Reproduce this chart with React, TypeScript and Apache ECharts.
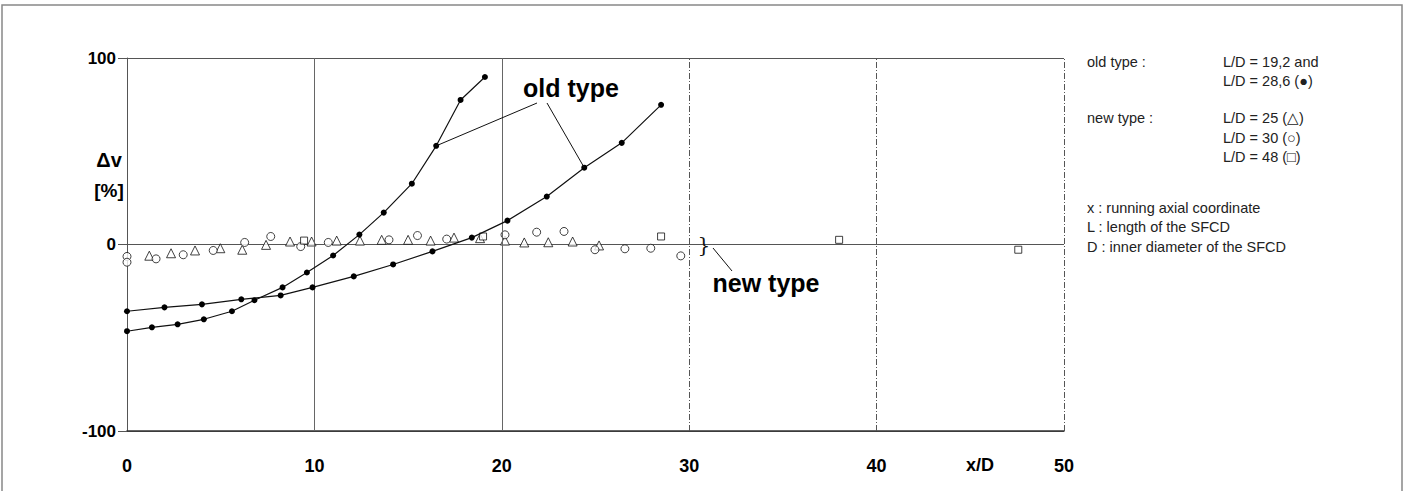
import React, { useEffect, useRef } from "react";
import * as echarts from "echarts";

// old type, L/D = 19,2 (filled dots)
const oldShortX = [0, 1.33, 2.7, 4.1, 5.6, 6.8, 8.3, 9.6, 11.0, 12.4, 13.7, 15.2, 16.5, 17.8, 19.1];
const oldShortY = [-46.5, -44.4, -42.8, -40.1, -35.8, -29.9, -23.0, -15.0, -5.9, 5.3, 17.1, 32.6, 52.9, 77.5, 89.8];
// old type, L/D = 28,6 (filled dots)
const oldLongX = [0, 2.0, 4.0, 6.1, 8.2, 9.9, 12.1, 14.2, 16.3, 18.4, 20.3, 22.4, 24.4, 26.4, 28.5];
const oldLongY = [-35.8, -33.7, -32.1, -29.4, -27.3, -23.0, -17.1, -10.7, -3.7, 3.7, 12.8, 25.7, 41.2, 54.5, 74.9];
// new type, L/D = 25 (triangles)
const triX = [1.19, 2.35, 3.63, 4.98, 6.15, 7.42, 8.7, 9.85, 11.19, 12.43, 13.59, 15.0, 16.2, 17.45, 18.84, 20.17, 21.2, 22.48, 23.78, 25.19];
const triY = [-6.0, -4.7, -3.2, -2.0, -2.8, -0.2, 1.6, 1.6, 2.1, 2.1, 2.5, 2.5, 2.1, 3.7, 3.4, 2.1, 1.1, 1.2, 1.6, -0.5];
// new type, L/D = 30 (circles)
const circX = [0, 0, 1.55, 3.0, 4.6, 6.28, 7.67, 9.27, 10.74, 13.98, 15.5, 17.06, 20.17, 21.86, 23.32, 24.97, 26.57, 27.95, 29.55];
const circY = [-6.4, -9.5, -7.7, -5.5, -3.2, 1.1, 4.3, -1.1, 1.1, 2.5, 4.8, 2.9, 5.2, 6.6, 7.0, -2.8, -2.3, -2.0, -6.1];
// new type, L/D = 48 (squares)
const sqX = [9.45, 19.0, 28.5, 38.0, 47.56];
const sqY = [2.1, 4.3, 4.3, 2.5, -2.8];

const xTicks = [0, 10, 20, 30, 40, 50];
const yTicks = [-100, 0, 100];
const solidGridX = [10, 20];
const dashedGridX = [30, 40, 50];

const legendLeft = ["old type :", "", "new type :", "", ""];
const legendRight = ["L/D = 19,2 and", "L/D = 28,6 (\u25CF)", "L/D = 25 (\u25B3)", "L/D = 30 (\u25CB)", "L/D = 48 (\u25A1)"];
const legendRows = [62, 81, 118, 138, 157];
const notes = ["x : running axial coordinate", "L : length of the SFCD", "D : inner diameter of the SFCD"];
const noteRows = [208, 227, 247];

const zip = (xs: number[], ys: number[]) => xs.map((x, i) => [x, ys[i]]);

const numFont = "'Liberation Sans Narrow', 'Arial Narrow', 'Liberation Sans', Arial, sans-serif";
const textFont = "'Liberation Sans', Arial, sans-serif";

export default function App() {
  const ref = useRef<HTMLDivElement>(null);
  useEffect(() => {
    document.body.style.margin = "0";
    const chart = echarts.init(ref.current!, null, { renderer: "svg" });
    const hollow = { color: "#fff", borderColor: "#111", borderWidth: 1 };
    chart.setOption({
      animation: false,
      backgroundColor: "#fff",
      grid: { left: 127, right: 341, top: 58, bottom: 60, containLabel: false },
      xAxis: {
        type: "value",
        min: 0,
        max: 50,
        interval: 10,
        axisLine: { show: true, onZero: false, lineStyle: { color: "#333", width: 1.6 } },
        axisTick: { show: false },
        splitLine: { show: false },
        axisLabel: {
          margin: 26,
          fontFamily: numFont,
          fontWeight: "bold",
          fontSize: 18,
          color: "#000",
          formatter: (v: number) => (xTicks.includes(v) ? String(v) : ""),
        },
      },
      yAxis: {
        type: "value",
        min: -100,
        max: 100,
        interval: 100,
        axisLine: { show: true, onZero: false, lineStyle: { color: "#555", width: 1 } },
        axisTick: { show: true, inside: false, length: 9, lineStyle: { color: "#555" } },
        splitLine: { show: true, lineStyle: { color: "#555", width: 1.2 } },
        axisLabel: {
          margin: 11,
          fontFamily: numFont,
          fontWeight: "bold",
          fontSize: 17,
          color: "#000",
          formatter: (v: number) => (yTicks.includes(v) ? String(v) : ""),
        },
      },
      series: [
        {
          type: "line",
          data: zip(oldShortX, oldShortY),
          symbol: "circle",
          symbolSize: 6,
          itemStyle: { color: "#000" },
          lineStyle: { color: "#111", width: 1.2 },
          z: 5,
          markLine: {
            silent: true,
            symbol: ["none", "none"],
            label: { show: false },
            data: [
              ...solidGridX.map((v) => ({ xAxis: v, lineStyle: { color: "#666", width: 1, type: "solid" } })),
              ...dashedGridX.map((v) => ({ xAxis: v, lineStyle: { color: "#555", width: 1, type: [6, 2, 1, 2] } })),
            ],
          },
        },
        {
          type: "line",
          data: zip(oldLongX, oldLongY),
          symbol: "circle",
          symbolSize: 6,
          itemStyle: { color: "#000" },
          lineStyle: { color: "#111", width: 1.2 },
          z: 5,
        },
        { type: "scatter", data: zip(triX, triY), symbol: "triangle", symbolSize: 9, itemStyle: hollow, z: 4 },
        { type: "scatter", data: zip(circX, circY), symbol: "circle", symbolSize: 8, itemStyle: hollow, z: 4 },
        { type: "scatter", data: zip(sqX, sqY), symbol: "rect", symbolSize: 7, itemStyle: hollow, z: 4 },
      ],
    });

    const pShort = chart.convertToPixel({ gridIndex: 0 }, [oldShortX[12], oldShortY[12]]) as number[];
    const pLong = chart.convertToPixel({ gridIndex: 0 }, [oldLongX[12], oldLongY[12]]) as number[];
    const pZero = chart.convertToPixel({ gridIndex: 0 }, [31, 0]) as number[];

    const texts: any[] = [];
    const legendFont = `14.5px ${textFont}`;
    legendRows.forEach((y, i) => {
      if (legendLeft[i]) {
        texts.push({
          type: "text", x: 1087, y,
          style: { text: legendLeft[i], font: legendFont, fill: "#222", textVerticalAlign: "middle" },
        });
      }
      texts.push({
        type: "text", x: 1223, y,
        style: { text: legendRight[i], font: legendFont, fill: "#222", textVerticalAlign: "middle" },
      });
    });
    noteRows.forEach((y, i) => {
      texts.push({
        type: "text", x: 1087, y,
        style: { text: notes[i], font: legendFont, fill: "#222", textVerticalAlign: "middle" },
      });
    });

    chart.setOption({
      graphic: [
        {
          type: "rect", shape: { x: 2, y: 5, width: 1400, height: 600 },
          style: { fill: "none", stroke: "#888", lineWidth: 1.5 }, silent: true,
        },
        {
          type: "text", x: 109, y: 160,
          style: { text: "\u0394v", font: `bold 20px ${textFont}`, fill: "#000", textAlign: "center", textVerticalAlign: "middle" },
        },
        {
          type: "text", x: 109, y: 190,
          style: { text: "[%]", font: `bold 19px ${textFont}`, fill: "#000", textAlign: "center", textVerticalAlign: "middle" },
        },
        {
          type: "text", x: 980, y: 465,
          style: { text: "x/D", font: `bold 18px ${numFont}`, fill: "#000", textAlign: "center", textVerticalAlign: "middle" },
        },
        {
          type: "text", x: 571, y: 88,
          style: { text: "old type", font: `bold 25px ${textFont}`, fill: "#000", textAlign: "center", textVerticalAlign: "middle" },
        },
        {
          type: "line", shape: { x1: 537, y1: 103, x2: pShort[0], y2: pShort[1] },
          style: { stroke: "#111", lineWidth: 1 }, z: 10,
        },
        {
          type: "line", shape: { x1: 547, y1: 103, x2: pLong[0], y2: pLong[1] },
          style: { stroke: "#111", lineWidth: 1 }, z: 10,
        },
        {
          type: "text", x: 766, y: 283,
          style: { text: "new type", font: `bold 25px ${textFont}`, fill: "#000", textAlign: "center", textVerticalAlign: "middle" },
        },
        {
          type: "text", x: pZero[0] - 4, y: pZero[1],
          style: { text: "}", font: `20px 'DejaVu Serif', serif`, fill: "#111", textAlign: "center", textVerticalAlign: "middle" },
        },
        {
          type: "line", shape: { x1: 713, y1: 248, x2: 732, y2: 271 },
          style: { stroke: "#111", lineWidth: 1 }, z: 10,
        },
        ...texts,
      ],
    });
    return () => chart.dispose();
  }, []);
  return <div ref={ref} style={{ width: 1405, height: 491 }} />;
}
